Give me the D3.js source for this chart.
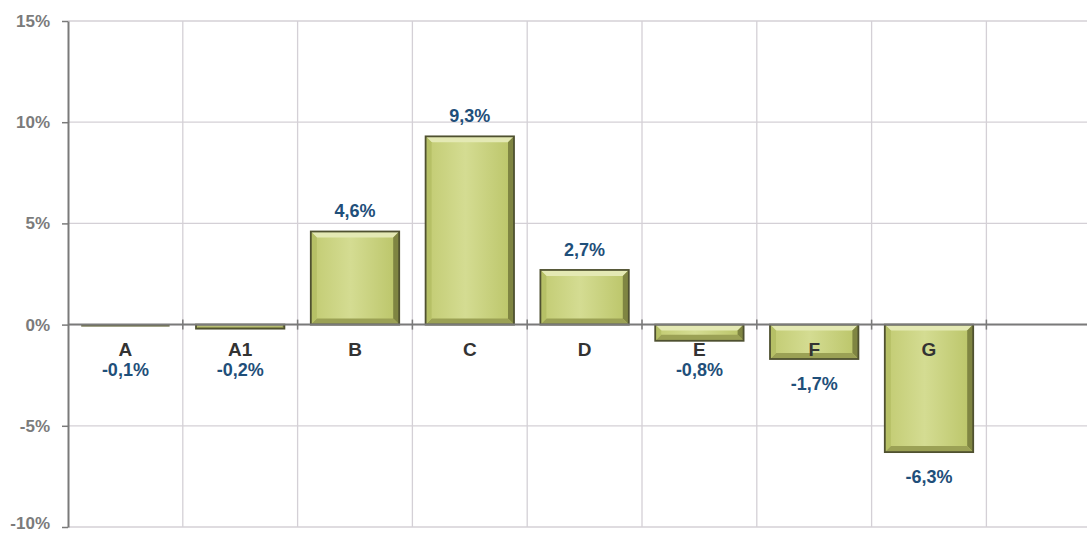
<!DOCTYPE html>
<html>
<head>
<meta charset="utf-8">
<script src="https://cdn.jsdelivr.net/npm/d3@7"></script>
<style>
  body { margin: 0; background: #fff; }
  svg { display: block; font-family: "Liberation Sans", Arial, sans-serif; }
</style>
</head>
<body>
<div id="chart"></div>
<script>
// Data
const categories = ["A", "A1", "B", "C", "D", "E", "F", "G"];
const values = [-0.1, -0.2, 4.6, 9.3, 2.7, -0.8, -1.7, -6.3];
const yTicks = [-10, -5, 0, 5, 10, 15];
const slots = 9; // the plot leaves one empty slot on the right

const W = 1087, H = 535;
const margin = { top: 21, bottom: 8, left: 68 };
const bandW = 114.8;

const svg = d3.select("#chart").append("svg")
    .attr("width", W).attr("height", H);

const slotKeys = d3.range(slots).map(i => categories[i] || "_" + i);
const x = d3.scaleBand()
    .domain(slotKeys)
    .range([margin.left, margin.left + bandW * slots])
    .paddingInner(0.23)
    .paddingOuter(0.115);
const xb = d3.scaleLinear().domain([0, slots]).range([margin.left, margin.left + bandW * slots]);

const y = d3.scaleLinear()
    .domain([-10, 15])
    .range([H - margin.bottom, margin.top]);

// gradients
const defs = svg.append("defs");
const g1 = defs.append("linearGradient").attr("id", "barFill")
    .attr("x1", "0").attr("x2", "1").attr("y1", "0").attr("y2", "0");
g1.append("stop").attr("offset", "0%").attr("stop-color", "#c2cb72");
g1.append("stop").attr("offset", "45%").attr("stop-color", "#d4dc92");
g1.append("stop").attr("offset", "100%").attr("stop-color", "#bac467");

// horizontal grid
svg.append("g").selectAll("line").data(yTicks).join("line")
    .attr("x1", margin.left).attr("x2", W)
    .attr("y1", d => y(d)).attr("y2", d => y(d))
    .attr("stroke", "#d4d0d6").attr("stroke-width", 1.3);

// vertical grid
svg.append("g").selectAll("line").data(d3.range(1, slots + 1)).join("line")
    .attr("x1", d => xb(d)).attr("x2", d => xb(d))
    .attr("y1", y(15)).attr("y2", y(-10))
    .attr("stroke", "#d4d0d6").attr("stroke-width", 1.3);

// y axis
const yAxis = svg.append("g")
    .attr("transform", `translate(${margin.left},0)`)
    .call(d3.axisLeft(y).tickValues(yTicks).tickSize(6).tickSizeOuter(0).tickPadding(12)
        .tickFormat(d => d + "%"));
yAxis.select(".domain").attr("stroke", "#7a7a7a").attr("stroke-width", 2);
yAxis.selectAll(".tick line").attr("stroke", "#7a7a7a").attr("stroke-width", 1.5);
yAxis.selectAll(".tick text")
    .attr("fill", "#7b7b7b").style("font-size", "17px").style("font-weight", "bold")
    .attr("font-family", "'Liberation Sans', Arial, sans-serif")
    .attr("dy", d => d === -10 ? "0.1em" : "0.32em");

// bars
const b = 6;
const bars = svg.append("g").selectAll("g").data(values).join("g");
bars.each(function (v, i) {
    const gg = d3.select(this);
    const x0 = x(categories[i]), x1 = x0 + x.bandwidth();
    const top = Math.min(y(v), y(0)), bot = Math.max(y(v), y(0));
    const h = bot - top;
    if (h < 2.5) {
        gg.append("rect").attr("x", x0).attr("y", top).attr("width", x1 - x0).attr("height", Math.max(h, 1.5))
            .attr("fill", "#6d6f46");
        return;
    }
    const bb = Math.min(b, h / 2);
    gg.append("rect").attr("x", x0).attr("y", top).attr("width", x1 - x0).attr("height", h)
        .attr("fill", "url(#barFill)");
    // bevels
    const poly = (pts, fill) => gg.append("polygon").attr("points", pts.map(p => p.join(",")).join(" ")).attr("fill", fill);
    poly([[x0, top], [x1, top], [x1 - bb, top + bb], [x0 + bb, top + bb]], "#e4e9b4");
    poly([[x1, top], [x1, bot], [x1 - bb, bot - bb], [x1 - bb, top + bb]], "#7f8542");
    poly([[x0, bot], [x1, bot], [x1 - bb, bot - bb], [x0 + bb, bot - bb]], "#9ba155");
    poly([[x0, top], [x0, bot], [x0 + bb, bot - bb], [x0 + bb, top + bb]], "#b6c066");
    gg.append("rect").attr("x", x0).attr("y", top).attr("width", x1 - x0).attr("height", h)
        .attr("fill", "none").attr("stroke", "#4f5130").attr("stroke-width", 1.8);
});

// zero line
svg.append("line")
    .attr("x1", margin.left).attr("x2", W)
    .attr("y1", y(0)).attr("y2", y(0))
    .attr("stroke", "#7a7a7a").attr("stroke-width", 2);
svg.append("g").selectAll("line").data(d3.range(1, slots + 1)).join("line")
    .attr("x1", d => xb(d)).attr("x2", d => xb(d))
    .attr("y1", y(0) - 5).attr("y2", y(0) + 5)
    .attr("stroke", "#7a7a7a").attr("stroke-width", 1.5);

// category labels
svg.append("g").selectAll("text").data(categories).join("text")
    .attr("x", d => x(d) + x.bandwidth() / 2)
    .attr("y", y(0) + 31)
    .attr("text-anchor", "middle")
    .attr("fill", "#333")
    .style("font-size", "19px").style("font-weight", "bold")
    .text(d => d);

// value labels
const fmt = v => d3.format(".1f")(v).replace(".", ",").replace("−", "-") + "%";
svg.append("g").selectAll("text").data(values).join("text")
    .attr("x", (v, i) => x(categories[i]) + x.bandwidth() / 2)
    .attr("y", v => v >= 0 ? y(v) - 14 : Math.max(y(v) + 31, y(0) + 51))
    .attr("text-anchor", "middle")
    .attr("fill", "#1f4f7a")
    .style("font-size", "18px").style("font-weight", "bold")
    .text(fmt);
</script>
</body>
</html>
